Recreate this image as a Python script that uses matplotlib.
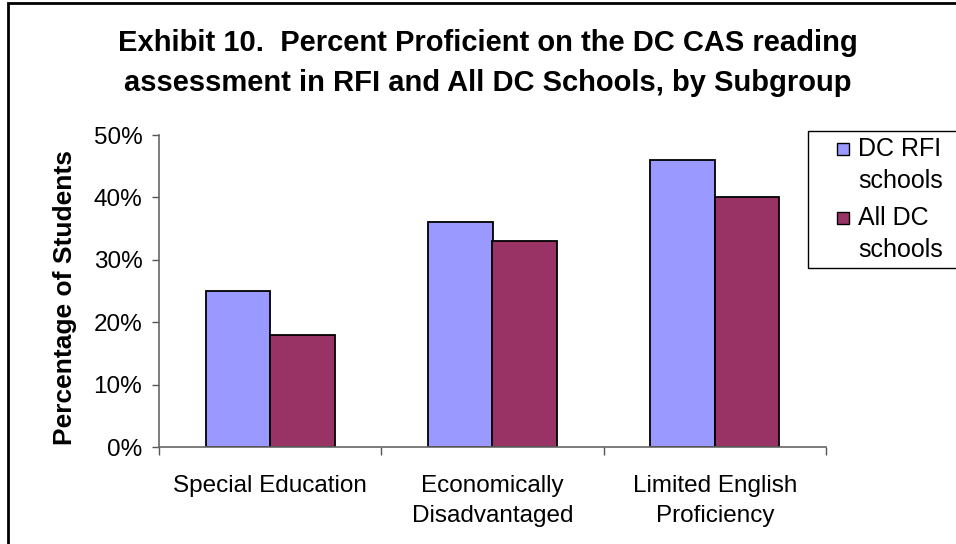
import numpy as np
import matplotlib
matplotlib.use("Agg")
import matplotlib.pyplot as plt
from matplotlib.patches import Rectangle
from matplotlib.ticker import PercentFormatter

# Percent proficient by subgroup
subgroups = ["Special Education", "Economically\nDisadvantaged", "Limited English\nProficiency"]
series_names = ["DC RFI\nschools", "All DC\nschools"]
rfi_pct = [25, 36, 46]
all_dc_pct = [18, 33, 40]
colors = ["#9999FF", "#993366"]

plt.rcParams["font.family"] = ["Liberation Sans", "DejaVu Sans"]

fig = plt.figure(figsize=(9.56, 5.44), dpi=100)
ax = fig.add_axes([159 / 956, 1 - 447 / 544, (826 - 159) / 956, (447 - 135) / 544])

x = np.arange(len(subgroups))
w = 0.29
ax.bar(x - w / 2, rfi_pct, w, color=colors[0], edgecolor="black", linewidth=1.3)
ax.bar(x + w / 2, all_dc_pct, w, color=colors[1], edgecolor="black", linewidth=1.3)

ax.set_xlim(-0.5, len(subgroups) - 0.5)
ax.set_ylim(0, 50)
ax.set_yticks(range(0, 51, 10))
ax.yaxis.set_major_formatter(PercentFormatter(decimals=0))
ax.tick_params(axis="y", labelsize=17.5, length=5, width=1, pad=7, colors="#555555", labelcolor="black")

ax.set_xticks(x)
ax.set_xticklabels(subgroups, fontsize=17.5, linespacing=1.5)
ax.set_xticks(np.arange(-0.5, len(subgroups)), minor=True)
ax.tick_params(axis="x", which="major", length=0, pad=20)
ax.tick_params(axis="x", which="minor", length=6, width=1, colors="#555555")

for side in ("top", "right"):
    ax.spines[side].set_visible(False)
for side in ("left", "bottom"):
    ax.spines[side].set_color("#666666")
    ax.spines[side].set_linewidth(1.2)

ax.set_ylabel("Percentage of Students", fontsize=19, fontweight="bold")
ax.yaxis.set_label_coords(-0.123, 0.478)

fig.text(0.51, 1 - 63 / 544,
         "Exhibit 10.  Percent Proficient on the DC CAS reading\n"
         "assessment in RFI and All DC Schools, by Subgroup",
         ha="center", va="center", fontsize=21, fontweight="bold", linespacing=1.58)

# legend box, drawn in figure pixels
W, H = 956, 544
fig.add_artist(Rectangle((808 / W, 1 - 268 / H), 160 / W, 137 / H, transform=fig.transFigure,
                         facecolor="white", edgecolor="black", linewidth=1.0, clip_on=False))
for i, (name, c) in enumerate(zip(series_names, colors)):
    y0 = 149 + i * 69
    fig.add_artist(Rectangle((837 / W, 1 - (y0 + 6) / H), 12 / W, 12 / H, transform=fig.transFigure,
                             facecolor=c, edgecolor="black", linewidth=1.0))
    fig.text(858 / W, 1 - (y0 - 12) / H, name, ha="left", va="top", fontsize=18, linespacing=1.4)

# outer chart border
fig.add_artist(Rectangle((8 / W, -0.05), 1.0, 1 - 3 / H + 0.05, transform=fig.transFigure,
                         facecolor="none", edgecolor="black", linewidth=2.0))

fig.savefig("out.png", dpi=100)
